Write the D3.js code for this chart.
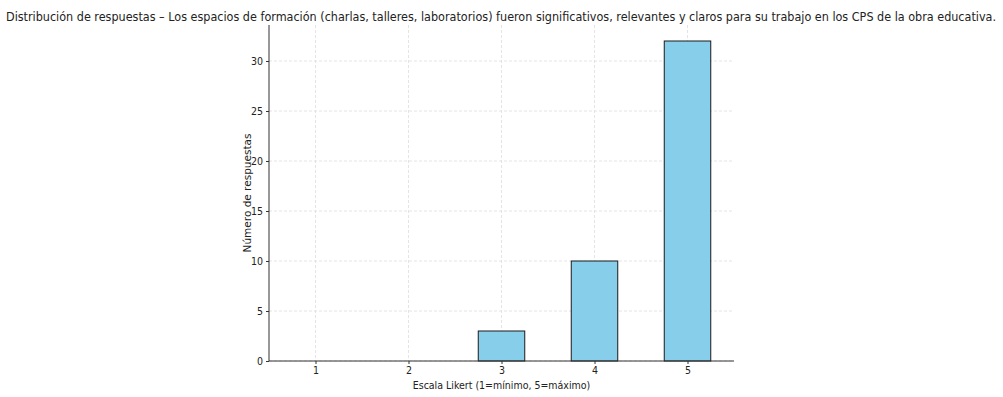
<!DOCTYPE html>
<html>
<head>
<meta charset="utf-8">
<script src="https://cdn.jsdelivr.net/npm/d3@7"></script>
<style>
  body { margin: 0; background: #fff; }
  svg { display: block; }
</style>
</head>
<body>
<svg id="chart" width="1003" height="397"></svg>
<script>
const TITLE = 'Distribución de respuestas – Los espacios de formación (charlas, talleres, laboratorios) fueron significativos, relevantes y claros para su trabajo en los CPS de la obra educativa.';
const categories = [1, 2, 3, 4, 5];
const counts = [0, 0, 3, 10, 32];
const yTicks = [0, 5, 10, 15, 20, 25, 30];

(function() {
    var svg = d3.select('#chart');
    var pLeft = 269, pRight = 734, pTop = 25, pBottom = 361;
    var FONT = '"DejaVu Sans Condensed", "DejaVu Sans", sans-serif';

    var x = d3.scaleLinear().domain([0.5, 5.5]).range([pLeft, pRight]);
    var y = d3.scaleLinear().domain([0, 33.6]).range([pBottom, pTop]);
    var barW = 0.5;

    // grid
    var grid = svg.append('g')
        .attr('stroke', '#dddddd')
        .attr('stroke-width', 0.8)
        .attr('stroke-dasharray', '3,2');
    grid.selectAll('.gx').data(categories).join('line')
        .attr('x1', d => x(d)).attr('x2', d => x(d))
        .attr('y1', pTop).attr('y2', pBottom);
    grid.selectAll('.gy').data(yTicks).join('line')
        .attr('x1', pLeft).attr('x2', pRight)
        .attr('y1', d => y(d)).attr('y2', d => y(d));

    // bars
    svg.append('g').selectAll('rect').data(counts).join('rect')
        .attr('x', (d, i) => x(categories[i] - barW / 2))
        .attr('width', x(barW) - x(0))
        .attr('y', d => y(d))
        .attr('height', d => y(0) - y(d))
        .attr('fill', '#87ceeb')
        .attr('stroke', '#1a1a1a')
        .attr('stroke-width', 1)
        .style('display', d => d > 0 ? null : 'none');

    // axes
    var xAxis = svg.append('g')
        .attr('transform', 'translate(0,' + pBottom + ')')
        .call(d3.axisBottom(x).tickValues(categories).tickFormat(d3.format('d')).tickSize(3).tickPadding(3).tickSizeOuter(0));
    var yAxis = svg.append('g')
        .attr('transform', 'translate(' + pLeft + ',0)')
        .call(d3.axisLeft(y).tickValues(yTicks).tickSize(3).tickPadding(3).tickSizeOuter(0));

    [xAxis, yAxis].forEach(function(a) {
        a.select('.domain').attr('stroke', '#333').attr('stroke-width', 1);
        a.selectAll('.tick line').attr('stroke', '#333');
        a.selectAll('.tick text')
            .attr('fill', '#222')
            .style('font-family', FONT)
            .style('font-size', '10.5px');
    });
    xAxis.select('.domain').attr('d', 'M' + pLeft + ',0H' + pRight);
    yAxis.select('.domain').attr('d', 'M0,' + pTop + 'V' + pBottom);

    // title
    svg.append('text')
        .attr('x', 6).attr('y', 21)
        .attr('textLength', 990)
        .attr('lengthAdjust', 'spacingAndGlyphs')
        .style('font-family', FONT)
        .style('font-size', '13px')
        .attr('fill', '#222')
        .text(TITLE);

    // x label
    svg.append('text')
        .attr('x', (pLeft + pRight) / 2).attr('y', 389)
        .attr('text-anchor', 'middle')
        .style('font-family', FONT)
        .style('font-size', '10.5px')
        .attr('fill', '#222')
        .text('Escala Likert (1=mínimo, 5=máximo)');

    // y label
    svg.append('text')
        .attr('transform', 'translate(251,' + ((pTop + pBottom) / 2) + ') rotate(-90)')
        .attr('text-anchor', 'middle')
        .style('font-family', '"DejaVu Sans", sans-serif')
        .style('font-size', '10.5px')
        .attr('fill', '#222')
        .text('Número de respuestas');
})();
</script>
</body>
</html>
